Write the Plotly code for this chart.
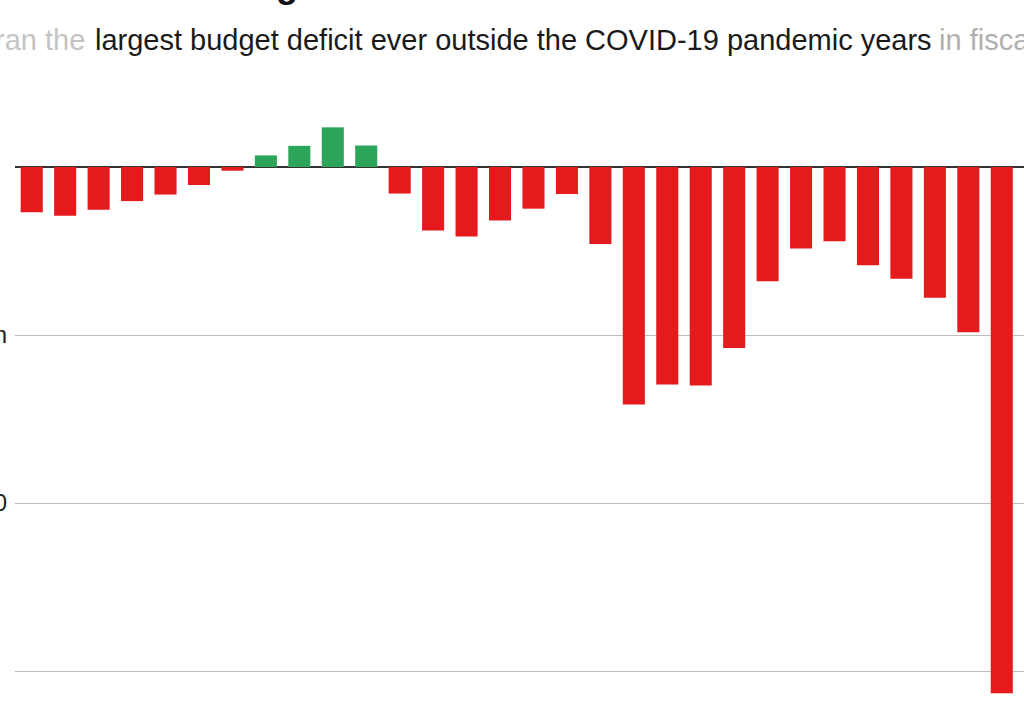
import plotly.graph_objects as go

years = list(range(1991, 2021))
balance_bn = [-269, -290, -255, -203, -164, -107, -22, 69, 126, 236, 128, -158,
              -378, -413, -318, -248, -161, -459, -1413, -1294, -1300, -1077,
              -680, -485, -442, -585, -665, -779, -984, -3132]
tick_vals = [0, -1000, -2000, -3000]
tick_text = ["", "-$1,000bn", "-2,000", ""]

RED = "#e41a1c"
GREEN = "#2ca55a"
colors = [GREEN if v > 0 else RED for v in balance_bn]

W, H = 1024, 724
ML = 15
px_per_cat = 33.45
px_per_bn = 0.168
zero_px = 167

x_lo = years[0] - 0.5
x_hi = x_lo + (W - ML) / px_per_cat
y_hi = zero_px / px_per_bn
y_lo = -(H - zero_px) / px_per_bn

fig = go.Figure(go.Bar(x=years, y=balance_bn, marker=dict(color=colors, line=dict(width=0)),
                       hoverinfo="x+y"))

def px_x(p):
    return (p - ML) / (W - ML)

def px_y(p):
    return 1 - p / H

fig.update_layout(
    width=W, height=H,
    margin=dict(l=ML, r=0, t=0, b=0),
    paper_bgcolor="white", plot_bgcolor="white",
    bargap=0.34, showlegend=False,
    font=dict(family="Liberation Sans, Arial, sans-serif", color="#222"),
    xaxis=dict(range=[x_lo, x_hi], showticklabels=False, showgrid=False, zeroline=False,
               ticks="", automargin=False, showline=False),
    yaxis=dict(range=[y_lo, y_hi], tickvals=tick_vals, ticktext=tick_text,
               showgrid=True, gridcolor="#bdbdbd", gridwidth=1.2,
               zeroline=True, zerolinecolor="#333333", zerolinewidth=1.5,
               ticks="", automargin=False, tickfont=dict(size=24, color="#222"),
               ticklabelstandoff=7, showline=False),
    annotations=[
        dict(text="<b>US government deficit widens</b>", xref="paper", yref="paper",
             x=px_x(214), y=px_y(7), xanchor="left", yanchor="bottom", showarrow=False,
             font=dict(size=36, color="#111")),
        dict(text="largest budget deficit ever outside the COVID-19 pandemic years",
             xref="paper", yref="paper", x=px_x(93), y=px_y(40), xanchor="left",
             yanchor="middle", showarrow=False, font=dict(size=29, color="#1a1a1a")),
        dict(text="ran the", xref="paper", yref="paper", x=px_x(87), y=px_y(40),
             xanchor="right", yanchor="middle", showarrow=False,
             font=dict(size=29, color="#c4c4c4")),
        dict(text="in fiscal 2024", xref="paper", yref="paper", x=px_x(937), y=px_y(40),
             xanchor="left", yanchor="middle", showarrow=False,
             font=dict(size=29, color="#b0b0b0")),
    ],
)

fig.write_html("out.html")
